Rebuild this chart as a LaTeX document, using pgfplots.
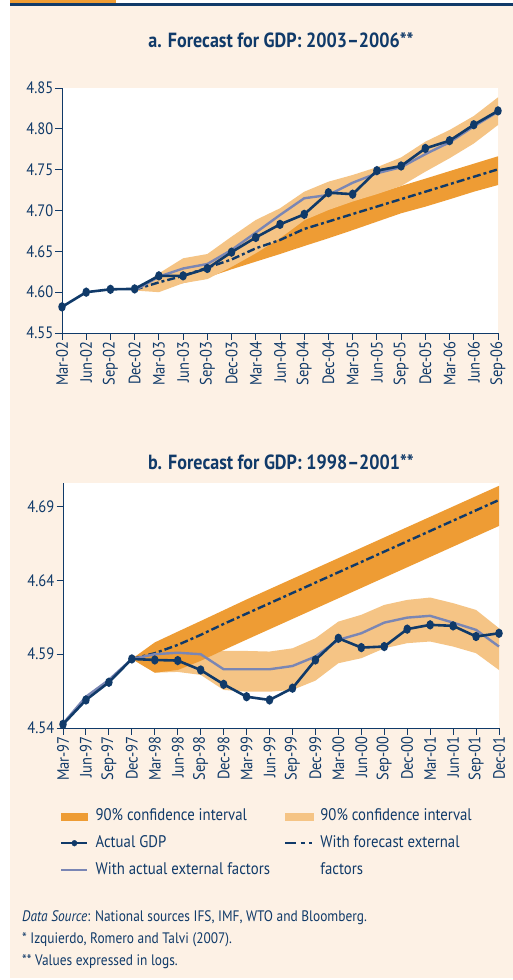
\documentclass[border=0pt]{standalone}
\usepackage{fontspec}
\setmainfont{PT Sans}[FakeStretch=0.88]
\usepackage{pgfplots}
\pgfplotsset{compat=1.18}
\usepackage{pgfplotstable}

\definecolor{navy}{RGB}{16,58,105}
\definecolor{cream}{RGB}{253,241,229}
\definecolor{darkor}{RGB}{238,156,52}
\definecolor{lightor}{RGB}{245,196,133}
\definecolor{grayblue}{RGB}{122,134,180}
\definecolor{skyline}{RGB}{150,180,215}

% panel a: 2003-2006 (x = quarter index, 0 = Mar-02)
\pgfplotstableread{
x y
0 4.582
1 4.600
2 4.6035
3 4.604
4 4.620
5 4.620
6 4.629
7 4.649
8 4.667
9 4.683
10 4.6953
11 4.7218
12 4.720
13 4.7488
14 4.7545
15 4.776
16 4.7855
17 4.805
18 4.822
}\topactual
\pgfplotstableread{
x y
3 4.602
4 4.619
5 4.629
6 4.6345
7 4.6517
8 4.673
9 4.6945
10 4.715
11 4.719
12 4.734
13 4.7456
14 4.753
15 4.769
16 4.7835
17 4.803
18 4.821
}\topgray
\pgfplotstableread{
x y
3 4.603
4 4.612
5 4.620
6 4.630
7 4.640
8 4.6537
9 4.6639
10 4.6774
11 4.6865
12 4.6957
13 4.7048
14 4.7139
15 4.723
16 4.7322
17 4.7413
18 4.7504
}\topfcst

% panel b: 1998-2001 (x = quarter index, 0 = Mar-97)
\pgfplotstableread{
x y
0 4.5425
1 4.559
2 4.571
3 4.5868
4 4.5861
5 4.5857
6 4.5793
7 4.5696
8 4.5612
9 4.559
10 4.567
11 4.5861
12 4.6008
13 4.5945
14 4.5952
15 4.607
16 4.6099
17 4.6092
18 4.602
19 4.6042
}\botactual
\pgfplotstableread{
x y
0 4.543
1 4.5612
2 4.5726
3 4.5868
4 4.590
5 4.591
6 4.590
7 4.5798
8 4.5798
9 4.5798
10 4.582
11 4.5884
12 4.5997
13 4.6042
14 4.6114
15 4.6148
16 4.616
17 4.6114
18 4.6065
19 4.5952
}\botgray
\pgfplotstableread{
x y
3 4.5868
4 4.5907
5 4.5963
6 4.6031
7 4.6105
8 4.6175
9 4.6245
10 4.6315
11 4.6385
12 4.6455
13 4.6525
14 4.6595
15 4.6665
16 4.6735
17 4.6805
18 4.6875
19 4.6945
}\botfcst

\pgfplotsset{panel/.style={
  scale only axis, width=436pt, height=245pt,
  axis lines=left, axis line style={-, navy, line width=1pt},
  axis background/.style={fill=white},
  tick align=outside, major tick length=6.5pt,
  tick style={navy, line width=1pt},
  tick label style={text=navy, font=\fontsize{16.5}{19}\selectfont},
  xticklabel style={rotate=90, anchor=east, inner sep=1.5pt},
  yticklabel style={inner sep=2pt},
  xmin=0, clip=false,
  line/.style={line width=2.4pt},
  gdp/.style={navy, line width=2.6pt, mark=*, mark size=2.4pt, mark options={yscale=1.35, solid}},
  fcst/.style={navy, line width=2.4pt, dash pattern=on 8pt off 3pt on 3pt off 3pt},
}}

\begin{document}
\begin{tikzpicture}
\path[use as bounding box] (0,0) rectangle (513pt,-980pt);
\fill[cream] (10pt,-6pt) rectangle (513pt,-978pt);
\fill[darkor] (10pt,0pt) rectangle (116pt,-3pt);
\fill[skyline] (116pt,-2.5pt) rectangle (513pt,-3.3pt);
\fill[navy] (10pt,-3.3pt) rectangle (513pt,-5.5pt);

\node[font=\bfseries\fontsize{20.5}{24}\selectfont, text=navy] at (281pt,-40pt) {a. Forecast for GDP: 2003–2006**};
\node[font=\bfseries\fontsize{20.5}{24}\selectfont, text=navy] at (281pt,-462pt) {b. Forecast for GDP: 1998–2001**};

\begin{axis}[panel, at={(62pt,-333pt)}, anchor=south west,
  xmax=18, ymin=4.55, ymax=4.85,
  xtick={0,...,18},
  xticklabels={Mar-02,Jun-02,Sep-02,Dec-02,Mar-03,Jun-03,Sep-03,Dec-03,Mar-04,Jun-04,Sep-04,Dec-04,Mar-05,Jun-05,Sep-05,Dec-05,Mar-06,Jun-06,Sep-06},
  ytick={4.55,4.60,4.65,4.70,4.75,4.80,4.85},
  yticklabels={4.55,4.60,4.65,4.70,4.75,4.80,4.85}]
  % 90% band, forecast external factors
  \addplot[fill=darkor, draw=none] coordinates {(3,4.603) (4,4.618) (5,4.629) (6,4.642) (7,4.654) (8,4.670) (9,4.680) (10,4.6934) (11,4.7025) (12,4.7117) (13,4.7208) (14,4.730) (15,4.739) (16,4.7482) (17,4.7573) (18,4.7664)
    (18,4.7312) (17,4.723) (16,4.7137) (15,4.7047) (14,4.6966) (13,4.6863) (12,4.676) (11,4.666) (10,4.6565) (9,4.6467) (8,4.6374) (7,4.628) (6,4.618) (5,4.611) (4,4.606)} -- cycle;
  % 90% band, actual external factors
  \addplot[fill=lightor, draw=none] coordinates {(3,4.602) (4,4.623) (5,4.6415) (6,4.6467) (7,4.668) (8,4.6884) (9,4.7027) (10,4.723) (11,4.7353) (12,4.7435) (13,4.753) (14,4.765) (15,4.7843) (16,4.7986) (17,4.8157) (18,4.8386)
    (18,4.8047) (17,4.782) (16,4.764) (15,4.7475) (14,4.730) (13,4.720) (12,4.711) (11,4.7006) (10,4.688) (9,4.666) (8,4.6476) (7,4.631) (6,4.616) (5,4.611) (4,4.600)} -- cycle;
  \addplot[fcst] table {\topfcst};
  \addplot[grayblue, line] table {\topgray};
  \addplot[gdp] table {\topactual};
\end{axis}

\begin{axis}[panel, at={(63pt,-728pt)}, anchor=south west,
  xmax=19, ymin=4.54, ymax=4.706,
  xtick={0,...,19},
  xticklabels={Mar-97,Jun-97,Sep-97,Dec-97,Mar-98,Jun-98,Sep-98,Dec-98,Mar-99,Jun-99,Sep-99,Dec-99,Mar-00,Jun-00,Sep-00,Dec-00,Mar-01,Jun-01,Sep-01,Dec-01},
  ytick={4.54,4.59,4.64,4.69},
  yticklabels={4.54,4.59,4.64,4.69},
  legend columns=2, legend cell align=left,
  legend style={at={(axis description cs:0,0)}, anchor=north west, xshift=-3pt, yshift=-80pt,
    draw=none, fill=none, inner sep=0pt, font=\fontsize{16.8}{20}\selectfont, text=navy,
    row sep=11pt, nodes={inner sep=0pt, text height=12.5pt, text depth=3.5pt},
    /tikz/every odd column/.append style={column sep=7pt},
    /tikz/every even column/.append style={column sep=14pt}}]
  \addplot[fill=lightor, draw=none, forget plot] coordinates {(3,4.5868) (4,4.591) (5,4.5915) (6,4.5922) (7,4.5922) (8,4.5922) (9,4.5918) (10,4.594) (11,4.6008) (12,4.6121) (13,4.6167) (14,4.6234) (15,4.6268) (16,4.6284) (17,4.6246) (18,4.620) (19,4.6076)
    (19,4.5793) (18,4.5907) (17,4.5952) (16,4.5986) (15,4.5975) (14,4.594) (13,4.5873) (12,4.5839) (11,4.5721) (10,4.5658) (9,4.5646) (8,4.5646) (7,4.5658) (6,4.576) (5,4.578) (4,4.5775)} -- cycle;
  \addplot[fill=darkor, draw=none, forget plot] coordinates {(3,4.5868) (4,4.598) (5,4.6053) (6,4.6125) (7,4.6198) (8,4.6271) (9,4.6341) (10,4.6411) (11,4.6481) (12,4.6551) (13,4.6621) (14,4.6691) (15,4.6761) (16,4.6831) (17,4.6901) (18,4.6971) (19,4.7041)
    (19,4.6769) (18,4.6699) (17,4.6629) (16,4.6559) (15,4.6489) (14,4.6419) (13,4.6349) (12,4.6279) (11,4.6209) (10,4.6139) (9,4.6069) (8,4.5999) (7,4.5928) (6,4.5855) (5,4.5793) (4,4.5775)} -- cycle;
  \addplot[fcst, forget plot] table {\botfcst};
  \addplot[grayblue, line, forget plot] table {\botgray};
  \addplot[gdp, forget plot] table {\botactual};

  \addlegendimage{legend image code/.code={\fill[darkor] (0pt,-3.5pt) rectangle (26pt,3.5pt);}}
  \addlegendentry{90\% confidence interval}
  \addlegendimage{legend image code/.code={\fill[lightor] (0pt,-3.5pt) rectangle (28pt,3.5pt);}}
  \addlegendentry{90\% confidence interval}
  \addlegendimage{legend image code/.code={\draw[navy, line width=2.4pt] (0pt,0pt) -- (26pt,0pt); \fill[navy] (13pt,0pt) ellipse [x radius=2.6pt, y radius=2.9pt];}}
  \addlegendentry{Actual GDP}
  \addlegendimage{legend image code/.code={\draw[navy, line width=2.4pt, dash pattern=on 11pt off 4.5pt on 4pt off 4.5pt on 3pt off 10pt] (0pt,0pt) -- (27pt,0pt);}}
  \addlegendentry{With forecast external}
  \addlegendimage{legend image code/.code={\draw[grayblue, line width=2.4pt] (0pt,0pt) -- (26pt,0pt);}}
  \addlegendentry{With actual external factors}
  \addlegendimage{empty legend}
  \addlegendentry{factors}
\end{axis}

\begin{scope}[every node/.style={anchor=base west, inner sep=0pt, text=navy, font=\fontsize{15.2}{18}\selectfont}]
\node at (22pt,-921pt) {\itshape Data Source\upshape: National sources IFS, IMF, WTO and Bloomberg.};
\node at (22pt,-943.5pt) {* Izquierdo, Romero and Talvi (2007).};
\node at (22pt,-965.5pt) {** Values expressed in logs.};
\end{scope}
\end{tikzpicture}
\end{document}
